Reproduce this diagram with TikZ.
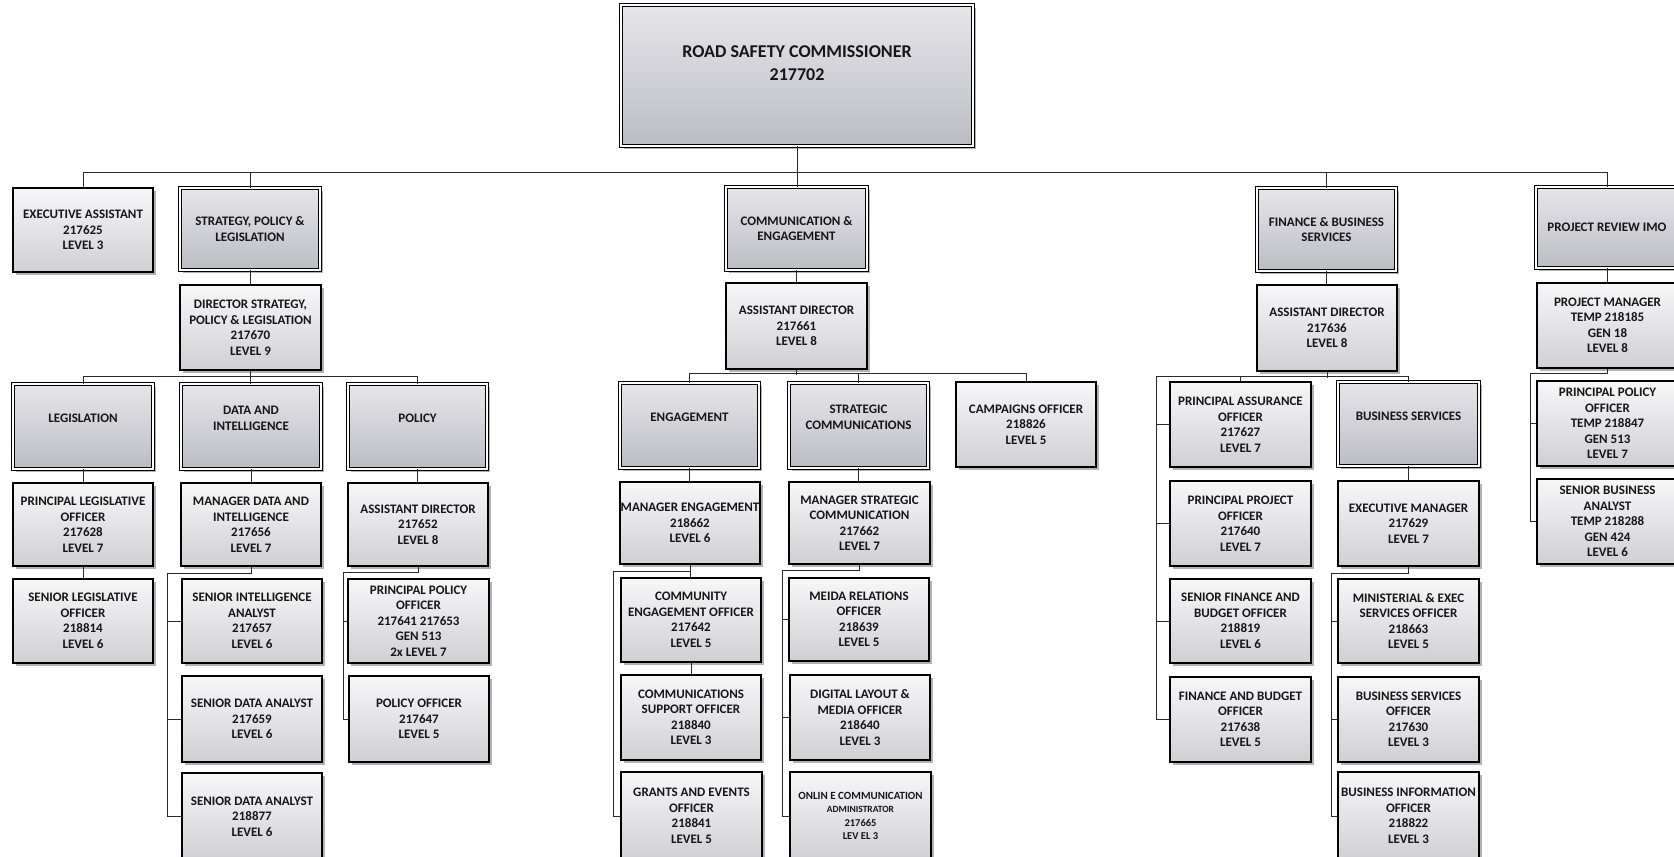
\documentclass[tikz,border=0pt]{standalone}
\usepackage{fontspec}
\setmainfont{Carlito}
\usetikzlibrary{shadows}
\definecolor{postop}{HTML}{F7F7F8}
\definecolor{posbot}{HTML}{D0D0D4}
\definecolor{unittop}{HTML}{E6E6EA}
\definecolor{unitbot}{HTML}{BCBCC4}
\definecolor{ink}{HTML}{161616}
\definecolor{wirec}{HTML}{2A2A2A}
\tikzset{
  base/.style={inner sep=0pt, align=center, text=ink,
    font=\bfseries\fontsize{13}{15.5}\selectfont,
    drop shadow={shadow xshift=2.5pt, shadow yshift=-2.5pt, fill=black, opacity=0.3}},
  posbox/.style={base, draw=black, line width=1.2pt, top color=postop, bottom color=posbot},
  unitbox/.style={base, draw=black, line width=0.9pt, double=white, double distance=1.6pt,
    top color=unittop, bottom color=unitbot},
  txt/.style={inner sep=0pt, align=center, text=ink, font=\bfseries\fontsize{13}{15.5}\selectfont},
  wire/.style={draw=wirec, line width=1pt},
}
\newcommand\obox[7]{\node[#1, minimum width={#5pt-#3pt}, minimum height={#6pt-#4pt}] (#2) at ({(#3+#5)/2},{(#4+#6)/2}) {#7};}
\newcommand\secbox[6]{\node[unitbox, minimum width={#4pt-#2pt}, minimum height={#5pt-#3pt}] (#1) at ({(#2+#4)/2},{(#3+#5)/2}) {};
  \node[txt] (#1t) at ([yshift=8pt]#1.center) {#6};}
\begin{document}
\begin{tikzpicture}[x=1pt,y=-1pt]
\path[use as bounding box, fill=white] (0,0) rectangle (1674,857);
\clip (0,0) rectangle (1674,857);

% top
\obox{unitbox}{RSC}{621}{5}{973}{146}{}
\node[txt, font=\bfseries\fontsize{18}{23}\selectfont] (RSCt) at ([yshift=12pt]RSC.center) {ROAD SAFETY COMMISSIONER\\217702};

% first level
\obox{posbox}{EA}{13}{188}{153}{272}{EXECUTIVE ASSISTANT\\217625\\LEVEL 3}
\obox{unitbox}{SPL}{180}{188}{320}{270}{STRATEGY, POLICY \&\\LEGISLATION}
\obox{unitbox}{CE}{726}{187}{867}{270}{COMMUNICATION \&\\ENGAGEMENT}
\obox{unitbox}{FBS}{1257}{188}{1396}{271}{FINANCE \& BUSINESS\\SERVICES}
\obox{unitbox}{PRI}{1536}{187}{1678}{268}{PROJECT REVIEW IMO}

\obox{posbox}{DSPL}{180}{285}{321}{370}{DIRECTOR STRATEGY,\\POLICY \& LEGISLATION\\217670\\LEVEL 9}
\obox{posbox}{ADC}{726}{283}{867}{369}{ASSISTANT DIRECTOR\\217661\\LEVEL 8}
\obox{posbox}{ADF}{1257}{285}{1397}{371}{ASSISTANT DIRECTOR\\217636\\LEVEL 8}
\obox{posbox}{PM}{1537}{283}{1678}{368}{PROJECT MANAGER\\TEMP 218185\\GEN 18\\LEVEL 8}

% second level
\secbox{LEG}{13}{384}{153}{469}{LEGISLATION}
\secbox{DI}{181}{384}{321}{469}{DATA AND\\INTELLIGENCE}
\secbox{POL}{348}{384}{487}{469}{POLICY}
\secbox{ENG}{620}{383}{759}{468}{ENGAGEMENT}
\secbox{STRC}{789}{383}{928}{468}{STRATEGIC\\COMMUNICATIONS}
\obox{posbox}{CAMP}{956}{382}{1096}{467}{CAMPAIGNS OFFICER\\218826\\LEVEL 5}
\obox{posbox}{PAO}{1170}{382}{1311}{467}{PRINCIPAL ASSURANCE\\OFFICER\\217627\\LEVEL 7}
\secbox{BUS}{1338}{382}{1479}{466}{BUSINESS SERVICES}
\obox{posbox}{PPT}{1537}{381}{1678}{466}{PRINCIPAL POLICY\\OFFICER\\TEMP 218847\\GEN 513\\LEVEL 7}

% third row
\obox{posbox}{PLO}{13}{483}{153}{566}{PRINCIPAL LEGISLATIVE\\OFFICER\\217628\\LEVEL 7}
\obox{posbox}{MDI}{181}{483}{321}{566}{MANAGER DATA AND\\INTELLIGENCE\\217656\\LEVEL 7}
\obox{posbox}{ADP}{348}{483}{488}{566}{ASSISTANT DIRECTOR\\217652\\LEVEL 8}
\obox{posbox}{MENG}{620}{482}{760}{564}{MANAGER ENGAGEMENT\\218662\\LEVEL 6}
\obox{posbox}{MSC}{789}{482}{930}{564}{MANAGER STRATEGIC\\COMMUNICATION\\217662\\LEVEL 7}
\obox{posbox}{PPR}{1170}{481}{1311}{566}{PRINCIPAL PROJECT\\OFFICER\\217640\\LEVEL 7}
\obox{posbox}{EM}{1338}{481}{1479}{566}{EXECUTIVE MANAGER\\217629\\LEVEL 7}
\obox{posbox}{SBA}{1537}{479}{1678}{564}{SENIOR BUSINESS\\ANALYST\\TEMP 218288\\GEN 424\\LEVEL 6}

% fourth row
\obox{posbox}{SLO}{13}{579}{153}{663}{SENIOR LEGISLATIVE\\OFFICER\\218814\\LEVEL 6}
\obox{posbox}{SIA}{182}{579}{322}{663}{SENIOR INTELLIGENCE\\ANALYST\\217657\\LEVEL 6}
\obox{posbox}{PPOL}{348}{579}{489}{663}{PRINCIPAL POLICY\\OFFICER\\217641 217653\\GEN 513\\2x LEVEL 7}
\obox{posbox}{CEO}{621}{578}{761}{662}{COMMUNITY\\ENGAGEMENT OFFICER\\217642\\LEVEL 5}
\obox{posbox}{MRO}{789}{578}{929}{661}{MEIDA RELATIONS\\OFFICER\\218639\\LEVEL 5}
\obox{posbox}{SFBO}{1170}{579}{1311}{663}{SENIOR FINANCE AND\\BUDGET OFFICER\\218819\\LEVEL 6}
\obox{posbox}{MEX}{1338}{579}{1479}{663}{MINISTERIAL \& EXEC\\SERVICES OFFICER\\218663\\LEVEL 5}

% fifth row
\obox{posbox}{SDA1}{182}{676}{322}{762}{SENIOR DATA ANALYST\\217659\\LEVEL 6}
\obox{posbox}{PO}{349}{676}{489}{762}{POLICY OFFICER\\217647\\LEVEL 5}
\obox{posbox}{CSO}{621}{675}{761}{760}{COMMUNICATIONS\\SUPPORT OFFICER\\218840\\LEVEL 3}
\obox{posbox}{DLMO}{790}{675}{930}{760}{DIGITAL LAYOUT \&\\MEDIA OFFICER\\218640\\LEVEL 3}
\obox{posbox}{FBO}{1170}{677}{1311}{762}{FINANCE AND BUDGET\\OFFICER\\217638\\LEVEL 5}
\obox{posbox}{BSO}{1338}{677}{1479}{762}{BUSINESS SERVICES\\OFFICER\\217630\\LEVEL 3}

% sixth row
\obox{posbox}{SDA2}{182}{773}{322}{860}{SENIOR DATA ANALYST\\218877\\LEVEL 6}
\obox{posbox}{GEO}{621}{772}{762}{860}{GRANTS AND EVENTS\\OFFICER\\218841\\LEVEL 5}
\obox{posbox, font=\bfseries\fontsize{10.5}{13.5}\selectfont}{OCA}{790}{772}{931}{860}{{\fontsize{11}{13}\selectfont ONLIN E COMMUNICATION}\\{\fontsize{9.5}{11}\selectfont ADMINISTRATOR}\\217665\\LEV EL 3}
\obox{posbox}{BIO}{1338}{772}{1479}{860}{BUSINESS INFORMATION\\OFFICER\\218822\\LEVEL 3}

% bracket x positions
\coordinate (dix) at (167,0);
\coordinate (polx) at (343,0);
\coordinate (engx) at (613,0);
\coordinate (scx) at (782,0);
\coordinate (finx) at (1156,0);
\coordinate (emx) at (1331,0);
\coordinate (pmx) at (1530,0);

% top connectors
\draw[wire] (RSC.south) -- (RSC.south |- CE.north);
\draw[wire] (EA.north) -- ++(0,-15) -| (PRI.north);
\draw[wire] (SPL.north) -- ++(0,-15);
\draw[wire] (FBS.north) -- ++(0,-15);

% strategy branch
\draw[wire] (SPL.south) -- (SPL.south |- DSPL.north);
\draw[wire] (LEG.north) -- ++(0,-7) -| (POL.north);
\draw[wire] (DSPL.south) -- (DSPL.south |- DI.north);
\draw[wire] (LEG.south) -- (LEG.south |- PLO.north);
\draw[wire] (DI.south) -- (DI.south |- MDI.north);
\draw[wire] (POL.south) -- (POL.south |- ADP.north);
\draw[wire] (PLO.south) -- (PLO.south |- SLO.north);
\draw[wire] (MDI.south) -- ++(0,7) -| (dix |- SDA2.west) -- (SDA2.west);
\draw[wire] (SIA.west) -- (dix |- SIA.west);
\draw[wire] (SDA1.west) -- (dix |- SDA1.west);
\draw[wire] (ADP.south) -- ++(0,6) -| (polx |- PO.west) -- (PO.west);
\draw[wire] (PPOL.west) -- (polx |- PPOL.west);

% communication branch
\draw[wire] (CE.south) -- (CE.south |- ADC.north);
\draw[wire] (ADC.south) -- ++(0,5);
\draw[wire] (ENG.north) -- ++(0,-9) -| (CAMP.north);
\draw[wire] (STRC.north) -- ++(0,-9);
\draw[wire] (ENG.south) -- (ENG.south |- MENG.north);
\draw[wire] (STRC.south) -- (STRC.south |- MSC.north);
\draw[wire] (MENG.south) -- (MENG.south |- CEO.north);
\draw[wire] (MENG.south) ++(0,7) -| (engx |- GEO.west) -- (GEO.west);
\draw[wire] (CEO.south) -- (CEO.south |- CSO.north);
\draw[wire] (MSC.south) -- ++(0,6) -| (scx |- OCA.west) -- (OCA.west);
\draw[wire] (MRO.west) -- (scx |- MRO.west);
\draw[wire] (DLMO.west) -- (scx |- DLMO.west);

% finance branch
\draw[wire] (FBS.south) -- (FBS.south |- ADF.north);
\draw[wire] (ADF.south) -- ++(0,6);
\draw[wire] (BUS.north) -- ++(0,-5) -| (finx |- FBO.west) -- (FBO.west);
\draw[wire] (PAO.north) -- ++(0,-5);
\draw[wire] (PAO.west) -- (finx |- PAO.west);
\draw[wire] (PPR.west) -- (finx |- PPR.west);
\draw[wire] (SFBO.west) -- (finx |- SFBO.west);
\draw[wire] (BUS.south) -- (BUS.south |- EM.north);
\draw[wire] (EM.south) -- ++(0,7) -| (emx |- BIO.west) -- (BIO.west);
\draw[wire] (MEX.west) -- (emx |- MEX.west);
\draw[wire] (BSO.west) -- (emx |- BSO.west);

% project review branch
\draw[wire] (PRI.south) -- (PRI.south |- PM.north);
\draw[wire] (PM.south) -- ++(0,5) -| (pmx |- SBA.west) -- (SBA.west);
\draw[wire] (PPT.west) -- (pmx |- PPT.west);
\end{tikzpicture}
\end{document}
